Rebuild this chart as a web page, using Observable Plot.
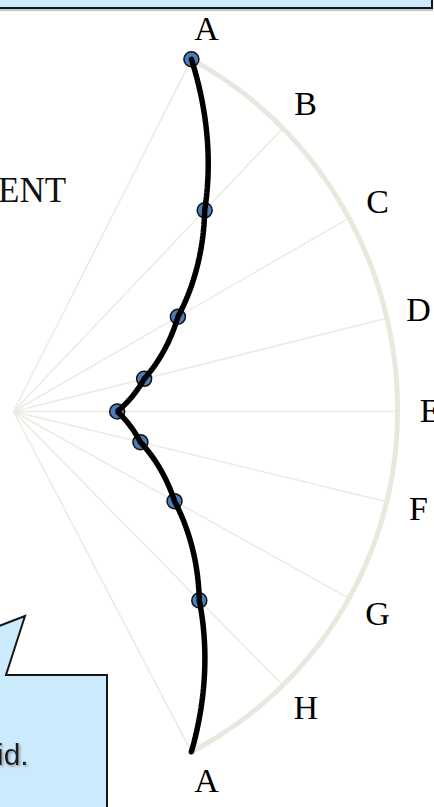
<!DOCTYPE html>
<html><head><meta charset="utf-8">
<script src="https://cdn.jsdelivr.net/npm/d3@7"></script>
<script src="https://cdn.jsdelivr.net/npm/@observablehq/plot@0.6"></script>
<style>
html,body{margin:0;padding:0;background:#fff;width:434px;height:807px;overflow:hidden;}
body{position:relative;}
#chart{position:absolute;left:0;top:0;}
#topbox{position:absolute;left:-10px;top:-30px;width:439px;height:35px;background:#cbeafc;border:2px solid #151515;box-shadow:0 2px 1px #c8c8c8;}
#overlay{position:absolute;left:0;top:0;pointer-events:none;}
</style>
</head><body>
<div id="chart"></div>
<div id="topbox"></div>
<svg id="overlay" width="434" height="807">
  <text x="-2" y="202" font-family="Liberation Serif" font-size="35" fill="#111">ENT</text>
  <defs><filter id="sh" x="-20%" y="-20%" width="140%" height="140%"><feDropShadow dx="1.5" dy="1.5" stdDeviation="0.8" flood-color="#888" flood-opacity="0.8"/></filter></defs>
  <polygon points="-6,628 25,616 6,675 107,675 107,830 -6,830" fill="#cbeafc" stroke="#151515" stroke-width="2"/>
  <text x="-3" y="765" font-family="Liberation Sans" font-size="30" fill="#1a1a1a" filter="url(#sh)">id.</text>
</svg>
<script>
// ---- data ----
const categories = ["A", "B", "C", "D", "E", "F", "G", "H", "A"];
const values = [100, 71, 49, 35, 27, 34, 48, 69, 100];
const hasDot = [true, true, true, true, true, true, true, true, false];

// ---- layout ----
const W = 434, H = 807, CX = 13, CY = 411, R = 384, SY = 1.035;
const angle = d3.scalePow().exponent(1.1).domain([-4, 4]).range([-62.4, 62.4]);
const radius = d3.scaleLinear().domain([0, 100]).range([0, R]);
const rows = categories.map((c, i) => ({cat: c, i, value: values[i], dot: hasDot[i]}));
const th = d => angle(4 - d.i) * Math.PI / 180;
const px = (d, v) => radius(v) * Math.cos(th(d));
const py = (d, v) => radius(v) * Math.sin(th(d));

// curve interpolating linearly in polar coordinates around the chart centre (pixels)
function polarCurve(cx, cy, steps = 32) {
  return (context) => {
    let prev = null;
    return {
      areaStart() {}, areaEnd() {},
      lineStart() { prev = null; },
      lineEnd() {},
      point(x, y) {
        x = +x; y = +y;
        if (!prev) { context.moveTo(x, y); prev = [x, y]; return; }
        const a0 = Math.atan2(prev[1] - cy, prev[0] - cx), r0 = Math.hypot(prev[0] - cx, prev[1] - cy);
        const a1 = Math.atan2(y - cy, x - cx), r1 = Math.hypot(x - cx, y - cy);
        for (let k = 1; k <= steps; k++) {
          const t = k / steps, a = a0 + (a1 - a0) * t, r = r0 + (r1 - r0) * t;
          context.lineTo(cx + r * Math.cos(a), cy + r * Math.sin(a));
        }
        prev = [x, y];
      }
    };
  };
}
const curve = polarCurve(CX, CY);

const chart = Plot.plot({
  width: W, height: H, margin: 0,
  x: {domain: [-CX, W - CX], axis: null},
  // upper half slightly taller than lower half, as in the reference
  y: {domain: [-(H - CY) / SY, CY / SY], transform: v => (v < 0 ? v / SY : v), axis: null},
  style: {background: "transparent", overflow: "visible"},
  marks: [
    Plot.link(rows, {x1: 0, y1: 0, x2: d => px(d, 100), y2: d => py(d, 100), stroke: "#ecebe2", strokeWidth: 1.5}),
    Plot.line(rows, {x: d => px(d, 100), y: d => py(d, 100), curve, stroke: "#eae8de", strokeWidth: 5}),
    Plot.dot(rows.filter(d => d.dot), {x: d => px(d, d.value), y: d => py(d, d.value), r: 7.5, fill: "#4a7ebb", stroke: "#111", strokeWidth: 1.5}),
    Plot.line(rows, {x: d => px(d, d.value), y: d => py(d, d.value), curve, stroke: "#000", strokeWidth: 5.5, strokeLinejoin: "miter"}),
    Plot.text(rows, {x: d => px(d, 108.5), y: d => py(d, 108.5), text: "cat", fontSize: 34, fontFamily: "Liberation Serif", fill: "#000", lineAnchor: "middle"})
  ]
});
document.getElementById("chart").appendChild(chart);
</script>
</body></html>
